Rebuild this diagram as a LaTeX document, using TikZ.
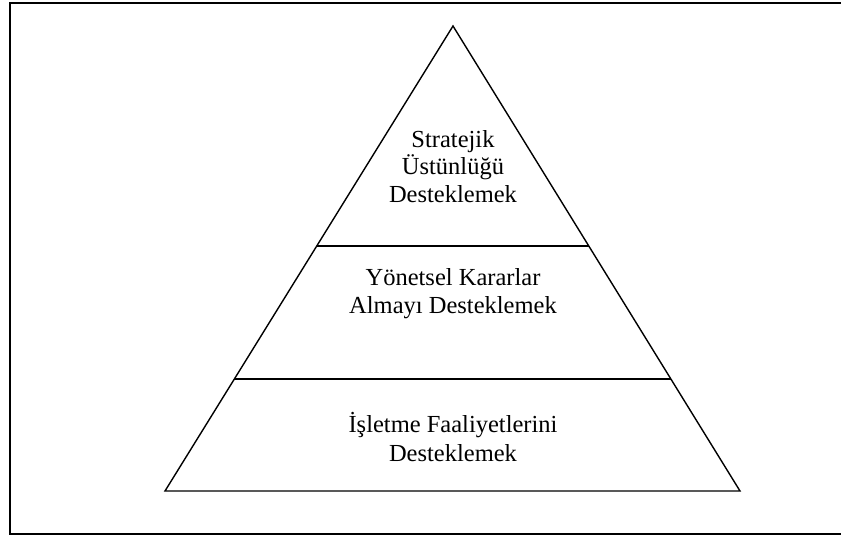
\documentclass[tikz,border=0pt]{standalone}
\usepackage{fontspec}
\setmainfont{Liberation Serif}
\usetikzlibrary{calc}
\begin{document}
\begin{tikzpicture}[x=1pt,y=-1pt,
  edge/.style={line width=1.4pt,line join=miter},
  tier/.style={anchor=base,inner sep=0pt,font=\fontsize{24.5}{28}\selectfont}]
\useasboundingbox (0,0) rectangle (841,538);
% outer frame
\draw[line width=1.3pt] (10,3) rectangle (846,534);
% pyramid
\coordinate (apex) at (453,26);
\coordinate (bl) at (165,491);
\coordinate (br) at (740,491);
\draw[edge] (apex) -- (br) -- (bl) -- cycle;
% tier dividers
\coordinate (d1l) at ($(apex)!0.4731!(bl)$);
\coordinate (d1r) at ($(apex)!0.4731!(br)$);
\coordinate (d2l) at ($(apex)!0.7591!(bl)$);
\coordinate (d2r) at ($(apex)!0.7591!(br)$);
\draw[edge] (d1l) -- (d1r);
\draw[edge] (d2l) -- (d2r);
% tier labels
\node[tier] (t1a) at (453,147) {Stratejik};
\node[tier] (t1b) at (453,174.5) {Üstünlüğü};
\node[tier] (t1c) at (453,202) {Desteklemek};
\node[tier] (t2a) at (453,285) {Yönetsel Kararlar};
\node[tier] (t2b) at (453,313) {Almayı Desteklemek};
\node[tier] (t3a) at (453,432) {İşletme Faaliyetlerini};
\node[tier] (t3b) at (453,461) {Desteklemek};
\end{tikzpicture}
\end{document}
